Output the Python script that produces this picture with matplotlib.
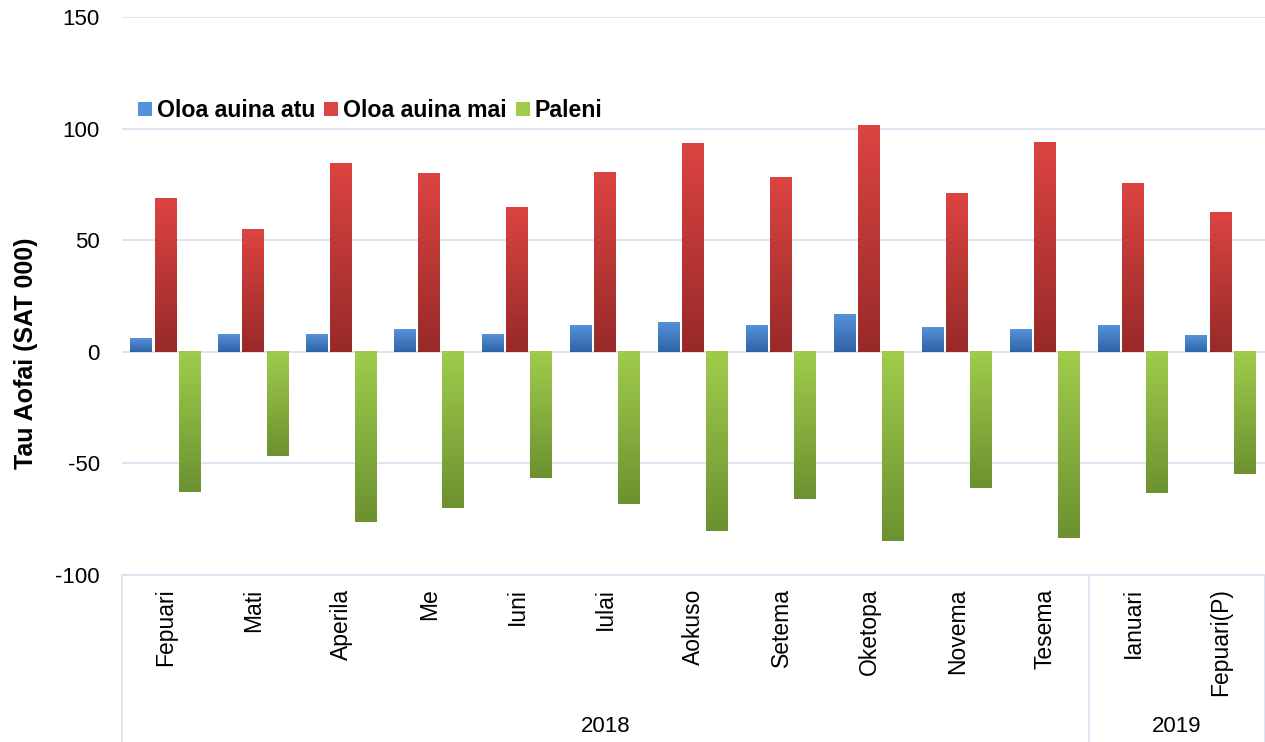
import numpy as np
import matplotlib.pyplot as plt
from matplotlib.colors import LinearSegmentedColormap
from matplotlib.patches import Patch

plt.rcParams['font.family'] = ['Liberation Sans', 'DejaVu Sans']
plt.rcParams['axes.unicode_minus'] = False

masina = ["Fepuari", "Mati", "Aperila", "Me", "Iuni", "Iulai", "Aokuso",
          "Setema", "Oketopa", "Novema", "Tesema", "Ianuari", "Fepuari(P)"]
tausaga = ["2018", "2019"]
tausaga_numera = [11, 2]  # masina i tausaga taitasi

atu = [6, 8, 8, 10.3, 8, 11.7, 13, 11.7, 17, 10.8, 10.3, 11.7, 7.6]
mai = [68.7, 54.8, 84.4, 79.9, 64.7, 80.4, 93.4, 78.1, 101.5, 70.9, 93.8, 75.4, 62.4]
paleni = [-62.9, -46.7, -76.3, -70, -56.6, -68.3, -80.4, -66, -84.9, -61, -83.5, -63.3, -54.8]

igoa = ["Oloa auina atu", "Oloa auina mai", "Paleni"]
lanu = [("#5592da", "#2f63a6"), ("#dc4441", "#972a29"), ("#a0cc4c", "#6c9130")]

fig = plt.figure(figsize=(12.65, 7.42), dpi=100)
ax = fig.add_axes([122 / 1265, 1 - 575 / 742, 1 - 122 / 1265, 558 / 742])

x = np.arange(len(masina))
w = 0.24
offs = [-0.285, -0.01, 0.265]
grad = np.linspace(0, 1, 256).reshape(-1, 1)

for vals, off, (light, dark) in zip([atu, mai, paleni], offs, lanu):
    cmap = LinearSegmentedColormap.from_list("g", [dark, light])
    for xi, v in zip(x, vals):
        x0, x1 = xi + off - w / 2, xi + off + w / 2
        # lighter at the top, darker at the bottom
        top, bot = max(v, 0), min(v, 0)
        ax.imshow(grad, extent=[x0, x1, bot, top], origin="lower", aspect="auto",
                  cmap=cmap, zorder=3, interpolation="bilinear")

ax.set_xlim(-0.5, len(masina) - 0.5)
ax.set_ylim(-100, 150)
ax.set_yticks([-100, -50, 0, 50, 100, 150])
ax.tick_params(axis="y", length=0, labelsize=16, pad=16)
ax.set_xticks([])
ax.grid(axis="y", color="#d9e3f2", lw=1.3, zorder=0)
for s in ["top", "right", "left"]:
    ax.spines[s].set_visible(False)
ax.spines["bottom"].set_color("#d9e3f2")
ax.spines["bottom"].set_linewidth(1.3)

ax.set_ylabel("Tau Aofai (SAT 000)", fontsize=18, fontweight="bold")
ax.yaxis.set_label_coords(-0.0735, 0.398)

# multi-level category axis
trans = ax.get_xaxis_transform()
for xi, m in zip(x, masina):
    ax.text(xi, -0.024, m, rotation=90, ha="center", va="top", fontsize=16.5,
            transform=trans)
yb = -(742 - 575) / 558
start = -0.5
ax.plot([start, start], [0, yb], color="#d9e3f2", lw=1.3, transform=trans, clip_on=False)
for yr, n in zip(tausaga, tausaga_numera):
    end = start + n
    ax.plot([end, end], [0, yb], color="#d9e3f2", lw=1.3, transform=trans, clip_on=False)
    ax.text((start + end) / 2, -0.272, yr, ha="center", va="center", fontsize=16,
            transform=trans)
    start = end

handles = [Patch(facecolor=c[0], edgecolor="none") for c in lanu]
ax.legend(handles, igoa, loc="upper left", bbox_to_anchor=(0.0, 0.882), ncol=3,
          frameon=False, prop={"weight": "bold", "size": 16.7}, handlelength=0.6,
          handleheight=0.6, handletextpad=0.2, columnspacing=0.4, borderaxespad=0.3)

fig.savefig("out.png", dpi=100)
